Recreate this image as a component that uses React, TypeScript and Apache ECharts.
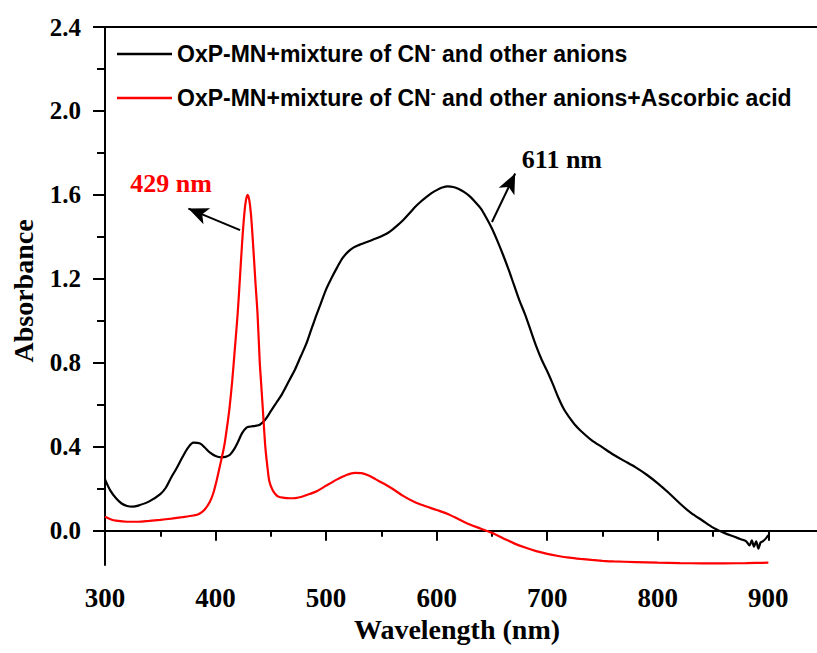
import React, { useEffect, useRef } from "react";
import * as echarts from "echarts";

// ---- data ----
const blackX = [300, 305, 310, 315, 320, 325, 330, 340, 350, 355, 360, 365, 370, 375, 380, 386, 390, 395, 400, 405, 409, 413, 417, 420, 424, 428, 432, 436, 440, 445, 450, 455, 460, 467, 472, 477, 482, 486, 490, 495, 500, 505, 510, 515, 520, 525, 530, 535, 540, 545, 550, 555, 560, 565, 570, 575, 580, 585, 590, 595, 600, 605, 610, 615, 620, 625, 630, 635, 640, 645, 650, 655, 660, 665, 670, 675, 680, 685, 690, 695, 700, 705, 710, 715, 720, 725, 730, 740, 750, 760, 770, 780, 790, 800, 810, 820, 830, 840, 850, 860, 870, 875, 880, 883, 885, 887, 889, 891, 893, 895, 898, 900];
const blackY = [0.245, 0.19, 0.155, 0.13, 0.118, 0.115, 0.12, 0.14, 0.175, 0.205, 0.255, 0.3, 0.35, 0.395, 0.42, 0.416, 0.398, 0.372, 0.356, 0.35, 0.352, 0.362, 0.39, 0.42, 0.465, 0.492, 0.497, 0.5, 0.505, 0.53, 0.57, 0.61, 0.65, 0.72, 0.77, 0.83, 0.89, 0.95, 1.01, 1.08, 1.15, 1.205, 1.255, 1.3, 1.33, 1.35, 1.362, 1.372, 1.382, 1.392, 1.403, 1.416, 1.435, 1.457, 1.482, 1.51, 1.54, 1.565, 1.587, 1.607, 1.623, 1.635, 1.641, 1.638, 1.628, 1.613, 1.593, 1.565, 1.535, 1.49, 1.44, 1.38, 1.315, 1.245, 1.17, 1.095, 1.03, 0.955, 0.88, 0.815, 0.76, 0.7, 0.635, 0.58, 0.54, 0.505, 0.478, 0.432, 0.397, 0.362, 0.332, 0.302, 0.267, 0.226, 0.18, 0.13, 0.085, 0.05, 0.015, -0.01, -0.03, -0.04, -0.05, -0.07, -0.045, -0.075, -0.05, -0.085, -0.055, -0.05, -0.035, -0.02];

const redX = [300, 305, 310, 320, 330, 340, 350, 360, 370, 380, 385, 390, 395, 398, 401, 404, 407.7, 410, 412.5, 415, 417.5, 420, 422, 424, 426, 427.5, 429, 430.5, 432, 434, 436, 438, 440, 441, 443, 445, 447, 448.5, 451, 454, 457, 462, 467, 472, 478, 485, 492, 500, 510, 518, 526, 532, 538, 545, 552, 560, 570, 580, 590, 600, 610, 620, 630, 640, 650, 660, 670, 680, 690, 700, 710, 720, 730, 740, 750, 760, 780, 800, 820, 840, 860, 880, 900];
const redY = [0.067, 0.055, 0.048, 0.043, 0.043, 0.047, 0.052, 0.058, 0.065, 0.073, 0.08, 0.1, 0.14, 0.18, 0.24, 0.31, 0.4, 0.48, 0.58, 0.71, 0.87, 1.035, 1.2, 1.37, 1.51, 1.575, 1.6, 1.575, 1.51, 1.36, 1.19, 1.03, 0.8, 0.72, 0.56, 0.4, 0.3, 0.24, 0.2, 0.175, 0.162, 0.157, 0.155, 0.156, 0.162, 0.175, 0.19, 0.215, 0.245, 0.265, 0.276, 0.275, 0.265, 0.245, 0.225, 0.2, 0.165, 0.137, 0.117, 0.099, 0.08, 0.055, 0.03, 0.01, -0.01, -0.035, -0.06, -0.08, -0.097, -0.11, -0.12, -0.128, -0.134, -0.139, -0.143, -0.146, -0.149, -0.152, -0.154, -0.155, -0.155, -0.154, -0.152];

const seriesNames = [
  "OxP-MN+mixture of CN\u207B and other anions",
  "OxP-MN+mixture of CN\u207B and other anions+Ascorbic acid",
];
const seriesColors = ["#000000", "#ff0000"];

const xMajorTicks = [300, 400, 500, 600, 700, 800, 900];
const xMinorTicks = [350, 450, 550, 650, 750, 850];
const yMajorTicks = [0, 0.4, 0.8, 1.2, 1.6, 2.0, 2.4];
const yMinorTicks = [0.2, 0.6, 1.0, 1.4, 1.8, 2.2];

const annotationTexts = ["429 nm", "611 nm"];
const annotationColors = ["#ff0000", "#000000"];
const annotationPos = [
  [359.7, 1.654],
  [713.3, 1.77],
];
const arrowTails = [
  [422.2, 1.432],
  [650.0, 1.471],
];
const arrowHeads = [
  [375.4, 1.535],
  [671.0, 1.702],
];

const X_MIN = 300;
const X_MAX = 944;
const Y_MIN = -0.163;
const Y_MAX = 2.4;

const zip = (xs: number[], ys: number[]) => xs.map((x, i) => [x, ys[i]]);

const serif = "'Liberation Serif', 'Times New Roman', serif";
const sans = "'Liberation Sans', Arial, sans-serif";

export default function App() {
  const ref = useRef<HTMLDivElement>(null);
  useEffect(() => {
    if (!ref.current) return;
    const chart = echarts.init(ref.current, undefined, { renderer: "svg" });
    const axisLineStyle = { color: "#000", width: 2 };
    const option: any = {
      animation: false,
      backgroundColor: "#ffffff",
      grid: { left: 105, right: 0, top: 27, bottom: 88, containLabel: false },
      legend: {
        orient: "vertical",
        left: 117,
        top: 41,
        padding: 0,
        itemWidth: 55,
        itemHeight: 2.5,
        itemGap: 19.5,
        icon: "rect",
        data: seriesNames,
        formatter: (name: string) => {
          const parts = name.split("\u207B");
          return `{t|${parts[0]}}{s|-}{t|${parts[1]}}`;
        },
        textStyle: {
          rich: {
            t: { fontSize: 23, fontWeight: "bold", fontFamily: sans, color: "#000", lineHeight: 26 },
            s: { fontSize: 15, fontWeight: "bold", fontFamily: sans, color: "#000", lineHeight: 13, verticalAlign: "top" },
          },
        },
      },
      xAxis: [
        {
          type: "value",
          min: X_MIN,
          max: X_MAX,
          position: "bottom",
          name: "Wavelength (nm)",
          nameLocation: "middle",
          nameGap: 42,
          nameTextStyle: { fontSize: 28, fontWeight: "bold", fontFamily: serif, color: "#000", padding: [0, 8, 0, 0] },
          axisLine: { show: true, lineStyle: axisLineStyle },
          axisTick: { show: true, inside: false, length: 10, lineStyle: axisLineStyle, customValues: xMajorTicks },
          axisLabel: {
            show: true,
            margin: 19,
            fontSize: 27,
            fontWeight: "bold",
            fontFamily: serif,
            color: "#000",
            customValues: xMajorTicks,
          },
          splitLine: { show: false },
        },
        {
          type: "value",
          min: X_MIN,
          max: X_MAX,
          position: "bottom",
          axisLine: { show: false },
          axisTick: { show: true, inside: false, length: 6, lineStyle: axisLineStyle, customValues: xMinorTicks },
          axisLabel: { show: false, customValues: xMinorTicks },
          splitLine: { show: false },
        },
        {
          type: "value",
          min: X_MIN,
          max: X_MAX,
          position: "top",
          axisLine: { show: true, lineStyle: axisLineStyle },
          axisTick: { show: false },
          axisLabel: { show: false },
          splitLine: { show: false },
        },
      ],
      yAxis: [
        {
          type: "value",
          min: Y_MIN,
          max: Y_MAX,
          position: "left",
          name: "Absorbance",
          nameLocation: "middle",
          nameGap: 68,
          nameTextStyle: { fontSize: 28, fontWeight: "bold", fontFamily: serif, color: "#000", padding: [0, 0, 0, 10] },
          axisLine: { show: true, lineStyle: axisLineStyle },
          axisTick: { show: true, inside: false, length: 12, lineStyle: axisLineStyle, customValues: yMajorTicks },
          axisLabel: {
            show: true,
            margin: 24,
            fontSize: 25,
            fontWeight: "bold",
            fontFamily: serif,
            color: "#000",
            customValues: yMajorTicks,
            formatter: (v: number) => v.toFixed(1),
          },
          splitLine: { show: false },
        },
        {
          type: "value",
          min: Y_MIN,
          max: Y_MAX,
          position: "left",
          axisLine: { show: false },
          axisTick: { show: true, inside: false, length: 8, lineStyle: axisLineStyle, customValues: yMinorTicks },
          axisLabel: { show: false, customValues: yMinorTicks },
          splitLine: { show: false },
        },
      ],
      series: [
        {
          name: seriesNames[0],
          type: "line",
          xAxisIndex: 0,
          yAxisIndex: 0,
          data: zip(blackX, blackY),
          symbol: "none",
          showSymbol: false,
          smooth: 0.3,
          lineStyle: { color: seriesColors[0], width: 2.2 },
          itemStyle: { color: seriesColors[0] },
          markLine: {
            silent: true,
            symbol: ["none", "arrow"],
            symbolSize: [13, 20],
            label: { show: false },
            lineStyle: { color: "#000", width: 2, type: "solid" },
            emphasis: { disabled: true },
            data: arrowTails.map((t, i) => [{ coord: t }, { coord: arrowHeads[i] }]),
          },
          markPoint: {
            silent: true,
            symbol: "rect",
            symbolSize: 1,
            itemStyle: { color: "rgba(0,0,0,0)" },
            data: annotationTexts.map((txt, i) => ({
              coord: annotationPos[i],
              value: txt,
              label: {
                show: true,
                position: "inside",
                formatter: txt,
                color: annotationColors[i],
                fontSize: 26,
                fontWeight: "bold",
                fontFamily: serif,
              },
            })),
          },
        },
        {
          name: seriesNames[1],
          type: "line",
          xAxisIndex: 0,
          yAxisIndex: 0,
          data: zip(redX, redY),
          symbol: "none",
          showSymbol: false,
          smooth: 0.3,
          lineStyle: { color: seriesColors[1], width: 2.2 },
          itemStyle: { color: seriesColors[1] },
        },
      ],
    };
    chart.setOption(option);
    return () => chart.dispose();
  }, []);
  return (
    <div
      ref={ref}
      style={{ position: "fixed", left: 0, top: 0, width: 817, height: 653, background: "#fff" }}
    />
  );
}
